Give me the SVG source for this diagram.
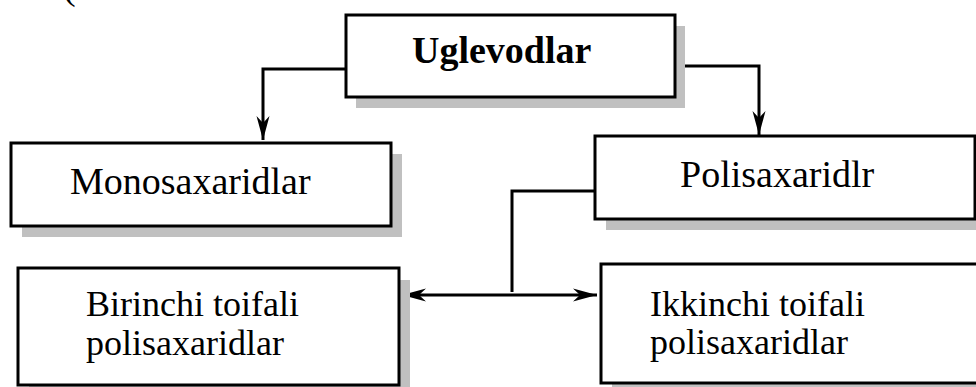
<svg xmlns="http://www.w3.org/2000/svg" width="976" height="387" viewBox="0 0 976 387">
<defs>
<style>
.box{fill:#fff;stroke:#000;stroke-width:3}
.sh{fill:#c0c0c0}
.t{font-family:"Liberation Serif","Times New Roman",serif;font-size:38px;fill:#000}
.m{font-size:36px}
.b{font-weight:bold}
.c{fill:none;stroke:#000;stroke-width:3}
</style>
<marker id="ah" markerUnits="userSpaceOnUse" markerWidth="26" markerHeight="14" refX="24" refY="7" orient="auto-start-reverse">
<path d="M0,0.5 L24,7 L0,13.5 L7,7 z" fill="#000"/>
</marker>
</defs>
<rect width="976" height="387" fill="#fff"/>
<text class="t" x="63" y="-1">(</text>
<g id="connectors">
<path class="c" d="M345,69 H263 V140" marker-end="url(#ah)"/>
<path class="c" d="M675,66 H759 V135" marker-end="url(#ah)"/>
<path class="c" d="M595,191 H512 V292"/>
<path class="c" d="M402,295 H597" marker-start="url(#ah)" marker-end="url(#ah)"/>
</g>
<g id="uglevodlar">
<rect class="sh" x="356" y="26" width="329" height="82"/>
<rect class="box" x="346" y="15" width="329" height="82"/>
<text class="t b" x="412" y="63">Uglevodlar</text>
</g>
<g id="monosaxaridlar">
<rect class="sh" x="22" y="154" width="380" height="83"/>
<rect class="box" x="11" y="143" width="380" height="83"/>
<text class="t" x="70" y="194">Monosaxaridlar</text>
</g>
<g id="polisaxaridlr">
<rect class="sh" x="606" y="147" width="380" height="83"/>
<rect class="box" x="595" y="136" width="380" height="83"/>
<text class="t" x="680" y="187">Polisaxaridlr</text>
</g>
<g id="birinchi">
<rect class="sh" x="29" y="280" width="381" height="117"/>
<rect class="box" x="18" y="268" width="381" height="117"/>
<text class="t m" x="86" y="316">Birinchi toifali</text>
<text class="t m" x="86" y="355">polisaxaridlar</text>
</g>
<g id="ikkinchi">
<rect class="sh" x="612" y="275" width="380" height="112"/>
<rect class="box" x="601" y="264" width="380" height="119"/>
<text class="t m" x="650" y="316">Ikkinchi toifali</text>
<text class="t m" x="650" y="354">polisaxaridlar</text>
</g>
</svg>
